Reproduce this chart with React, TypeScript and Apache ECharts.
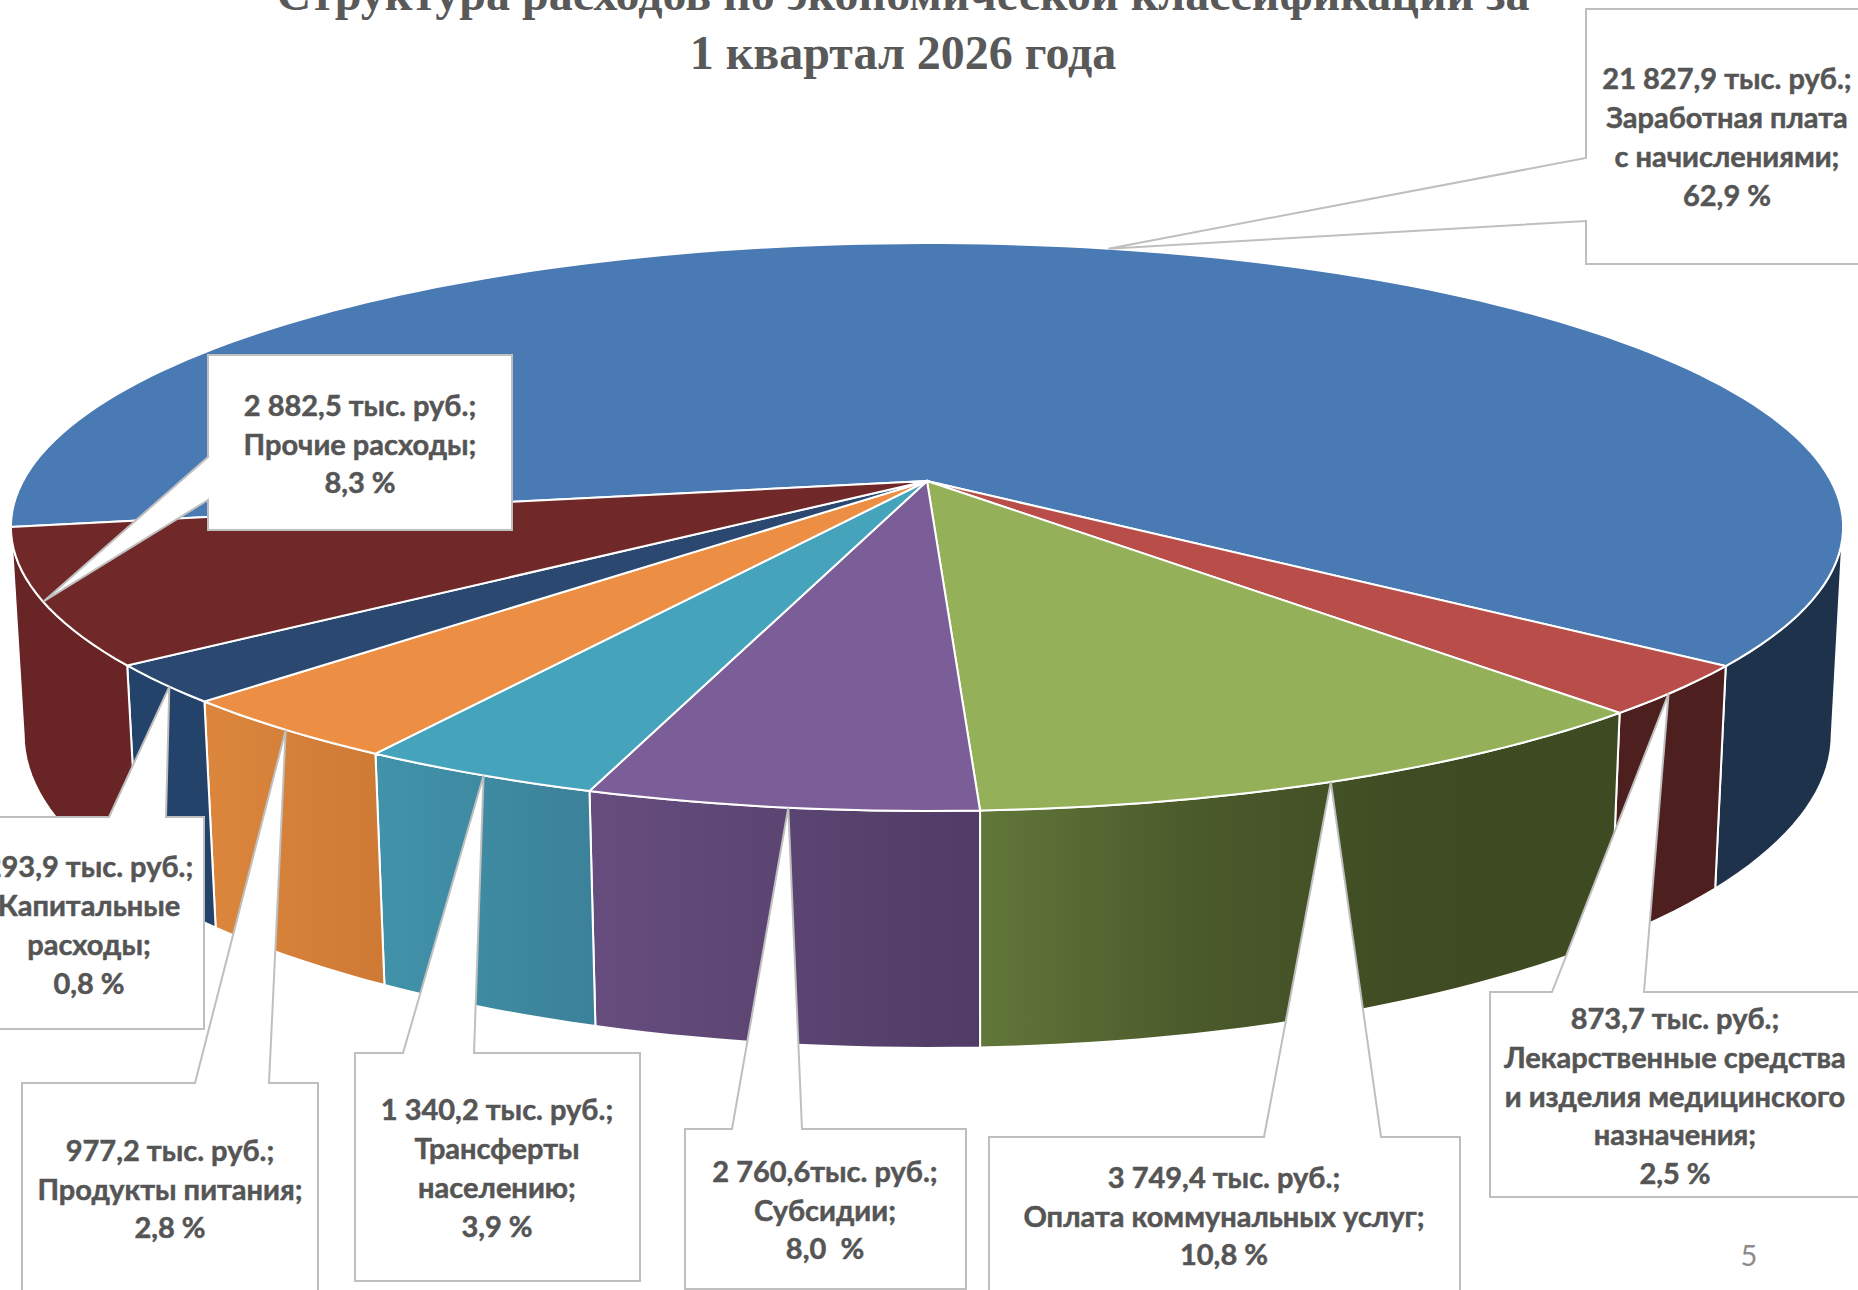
import React, { useEffect, useRef } from "react";
import * as echarts from "echarts";

// ---------- data ----------
// Slice sizes as drawn in the picture (percent of the circle), read from the rim.
const sliceShares = [62.9, 2.9, 11.0, 5.9, 3.7, 3.7, 2.2, 7.7];
const amountLabels = [
  "21 827,9 тыс. руб.;",
  "873,7 тыс. руб.;",
  "3 749,4 тыс. руб.;",
  "2 760,6тыс. руб.;",
  "1 340,2 тыс. руб.;",
  "977,2 тыс. руб.;",
  "293,9 тыс. руб.;",
  "2 882,5 тыс. руб.;",
];
const categoryLabels = [
  "Заработная плата\nс начислениями;",
  "Лекарственные средства\nи изделия медицинского\nназначения;",
  "Оплата коммунальных услуг;",
  "Субсидии;",
  "Трансферты\nнаселению;",
  "Продукты питания;",
  "Капитальные\nрасходы;",
  "Прочие расходы;",
];
const percentLabels = ["62,9 %", "2,5 %", "10,8 %", "8,0  %", "3,9 %", "2,8 %", "0,8 %", "8,3 %"];
const titleLines = "Структура расходов по экономической классификации за\n1 квартал 2026 года";
const pageNumber = "5";

// ---------- styles ----------
const topColors = ["#4A7AB4", "#B84D4A", "#94B159", "#7B5E97", "#46A3BC", "#EC8E43", "#2B4870", "#702828"];
const wallStops: string[][] = [
  ["#1E324C", "#1E324C"],
  ["#4E1F1F", "#4E1F1F"],
  ["#62773A", "#4B5A2B", "#3F4C23", "#3E4A22"],
  ["#664D7E", "#503C66"],
  ["#4193AA", "#3B8199"],
  ["#DC863D", "#CE7A35"],
  ["#24436A", "#24436A"],
  ["#692525", "#692525"],
];
const TEXT = "#555555";
const BORDER = "#BFBFBF";

// ---------- projection of the disc ----------
const CX = 927, CY = 481, A = 904, B = 276.5, K = 0.162;
const DEPTH = 206, M = 0.013, SHIFT = 0.7;
const START = -99.3;
const FRONT_FROM = 99.3; // rim angle where the side wall turns towards the viewer
const STEP = 1.5;

const project = (deg: number, lower: boolean) => {
  const t = (deg * Math.PI) / 180;
  const u = Math.sin(t), v = -Math.cos(t);
  if (!lower) {
    const w = 1 - K * v;
    return [CX + (A * u) / w, CY + (B * v) / w];
  }
  const w = 1 - K * v + M;
  return [CX + (A * u + SHIFT) / w, CY + (B * v + DEPTH) / w];
};

const total = sliceShares.reduce((a, b) => a + b, 0);
const spans = (() => {
  let a = START;
  return sliceShares.map((x) => {
    const s = a;
    a += (x / total) * 360;
    return [s, a];
  });
})();
const arc = (s: number, e: number, lower: boolean) => {
  const n = Math.max(2, Math.ceil((e - s) / STEP));
  const out: number[][] = [];
  for (let i = 0; i <= n; i++) out.push(project(s + ((e - s) * i) / n, lower));
  return out;
};

// ---------- callouts: [left, top, right, bottom, side, wedgeA, wedgeB, textX, textY, tipShiftDeg] ----------
const callouts: [number, number, number, number, string, number, number, number, number, number][] = [
  [1586, 9, 1880, 264, "left", 158, 221, 1727, 136, -0.5],
  [1490, 992, 1880, 1197, "top", 1552, 1644, 1675, 1095, 0.8],
  [989, 1137, 1460, 1320, "top", 1264, 1381, 1224, 1215, 0.3],
  [685, 1129, 966, 1289, "top", 732, 802, 825, 1209, -0.4],
  [355, 1053, 640, 1281, "top", 403, 474, 497, 1167, -0.35],
  [22, 1083, 318, 1320, "top", 195, 269, 170, 1188, -0.15],
  [-30, 817, 204, 1029, "top", 109, 166, 89, 924, -0.6],
  [208, 355, 512, 530, "left", 457, 500, 360, 443, -0.9],
];

const calloutShapes = () =>
  callouts.flatMap((c, i) => {
    const [l, t, r, b, side, p, q, tx, ty, shift] = c;
    const mid = (spans[i][0] + spans[i][1]) / 2 + shift;
    const tip = project(mid, false);
    const pts =
      side === "top"
        ? [[l, t], [p, t], tip, [q, t], [r, t], [r, b], [l, b]]
        : [[l, t], [r, t], [r, b], [l, b], [l, q], tip, [l, p]];
    return [
      {
        type: "polygon",
        z: 100,
        shape: { points: pts },
        style: { fill: "#FFFFFF", stroke: BORDER, lineWidth: 2 },
      },
      {
        type: "text",
        z: 101,
        x: tx,
        y: ty,
        style: {
          text: `${amountLabels[i]}\n${categoryLabels[i]}\n${percentLabels[i]}`,
          font: 'bold 29px "Lato", "Open Sans", sans-serif',
          fill: TEXT,
          stroke: TEXT,
          lineWidth: 0.5,
          align: "center",
          verticalAlign: "middle",
          lineHeight: 38.8,
        },
      },
    ];
  });

export default function App() {
  const ref = useRef<HTMLDivElement>(null);
  useEffect(() => {
    document.body.style.margin = "0";
    const chart = echarts.init(ref.current!, undefined, { renderer: "svg" });
    const data = sliceShares.map((v, i) => [i, v]);
    chart.setOption({
      animation: false,
      backgroundColor: "#FFFFFF",
      series: [
        {
          type: "custom",
          coordinateSystem: "none",
          silent: true,
          z: 2,
          data,
          renderItem: (_: unknown, api: any) => {
            const i = api.value(0);
            const [s0, e] = spans[i];
            const s = Math.max(s0, Math.min(FRONT_FROM, e));
            const stops = wallStops[i];
            const pts = [...arc(s, e, false), ...arc(s, e, true).reverse()];
            return {
              type: "polygon",
              shape: { points: pts },
              style: {
                fill: new echarts.graphic.LinearGradient(
                  0, 0, 1, 0,
                  stops.map((color, k) => ({ offset: k / (stops.length - 1), color }))
                ),
                stroke: "#FFFFFF",
                lineWidth: 2,
              },
            };
          },
        },
        {
          type: "custom",
          coordinateSystem: "none",
          silent: true,
          z: 3,
          data,
          renderItem: (_: unknown, api: any) => {
            const i = api.value(0);
            const [s, e] = spans[i];
            return {
              type: "polygon",
              shape: { points: [[CX, CY], ...arc(s, e, false)] },
              style: { fill: topColors[i], stroke: "#FFFFFF", lineWidth: 2 },
            };
          },
        },
      ],
      graphic: {
        z: 100,
        elements: [
          ...calloutShapes(),
          {
            type: "text",
            z: 101,
            x: 903,
            y: 23,
            style: {
              text: titleLines,
              font: 'bold 48px "Liberation Serif", serif',
              fill: "#595959",
              align: "center",
              verticalAlign: "middle",
              lineHeight: 59,
            },
          },
          {
            type: "text",
            z: 101,
            x: 1749,
            y: 1254,
            style: {
              text: pageNumber,
              font: '29px "Lato", "Open Sans", sans-serif',
              fill: "#8C8C8C",
              align: "center",
              verticalAlign: "middle",
            },
          },
        ],
      },
    });
    return () => chart.dispose();
  }, []);
  return <div ref={ref} style={{ position: "absolute", left: 0, top: 0, width: 1858, height: 1290 }} />;
}
